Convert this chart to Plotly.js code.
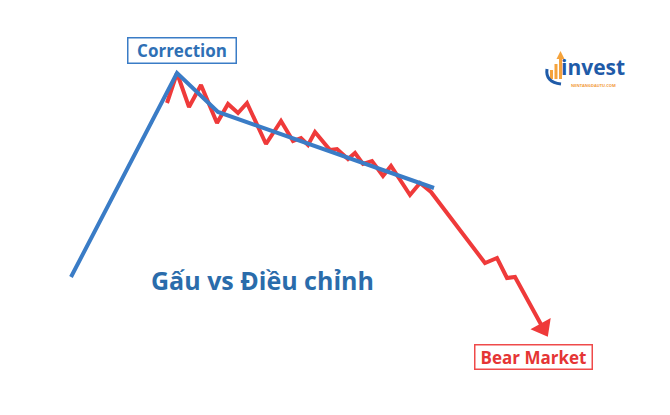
<!DOCTYPE html>
<html><head><meta charset="utf-8">
<script src="https://cdn.plot.ly/plotly-3.0.1.min.js"></script>
<style>html,body{margin:0;padding:0;background:#fff}#chart{width:670px;height:415px}</style>
</head><body><div id="chart"></div>
<script>
// Trend (correction) line: time index vs price level
const trendTime  = [71, 177, 218, 434];
const trendPrice = [138, 342, 303, 227];
// Actual price path (correction then bear market)
const priceTime  = [167,177,189,201,217,228,238,247,266,281,293,301,308,315,330,337,348,355,363,372,383,391,410,420,431,485,497,507,515,543];
const priceLevel = [312,342,308,330,292,311,302,312,271,294,274,277,270,283,265,266,256,262,251,254,239,249,220,232,223,152,157,137,138,87];
const labels = {correction: "Correction", bear: "Bear Market", title: "Gấu vs Điều chỉnh", brand: "invest", site: "NENTANGDAUTU.COM"};

const RED = "#ef3a3a", BLUE = "#3a7cc6";
const n = priceTime.length;
const traces = [
  {x: priceTime, y: priceLevel, mode: "lines+markers", type: "scatter",
   line: {color: RED, width: 4, shape: "linear"},
   marker: {color: RED, opacity: 1, size: priceTime.map((_, i) => i === n - 1 ? 20 : 0),
            symbol: "triangle-up", angleref: "previous", line: {width: 0, color: RED}},
   hoverinfo: "skip"},
  {x: trendTime, y: trendPrice, mode: "lines", type: "scatter",
   line: {color: BLUE, width: 4}, hoverinfo: "skip"}
];
const font = "'Open Sans', Roboto, sans-serif";
const layout = {
  width: 670, height: 415, margin: {l: 0, r: 0, t: 0, b: 0},
  paper_bgcolor: "#fff", plot_bgcolor: "#fff", showlegend: false,
  xaxis: {range: [0, 670], visible: false, fixedrange: true},
  yaxis: {range: [0, 415], visible: false, fixedrange: true},
  annotations: [
    {x: 181.5, y: 365, xref: "x", yref: "y", text: "<b>" + labels.correction + "</b>", showarrow: false,
     font: {family: font, size: 17, color: "#2f70b5"}, bordercolor: "#3a7cc6", borderwidth: 1.5,
     borderpad: 2, bgcolor: "#fff", width: 103, height: 20},
    {x: 533, y: 58, xref: "x", yref: "y", text: "<b>" + labels.bear + "</b>", showarrow: false,
     font: {family: font, size: 17, color: "#e53535"}, bordercolor: "#ef4a4a", borderwidth: 1.5,
     borderpad: 2, bgcolor: "#fff", width: 112, height: 19},
    {x: 262, y: 135, xref: "x", yref: "y", text: "<b>" + labels.title + "</b>", showarrow: false,
     font: {family: font, size: 25, color: "#2a6cab"}},
    {x: 593, y: 348, xref: "x", yref: "y", text: "<b>" + labels.brand + "</b>", showarrow: false,
     font: {family: font, size: 21, color: "#1f5ba8"}},
    {x: 593, y: 330, xref: "x", yref: "y", text: "<b>" + labels.site + "</b>", showarrow: false,
     font: {family: font, size: 4, color: "#f29a3a"}}
  ],
  shapes: [
    {type: "rect", xref: "x", yref: "y", x0: 550, x1: 553, y0: 336, y1: 345, fillcolor: "#f5a33c", line: {width: 0}},
    {type: "rect", xref: "x", yref: "y", x0: 554.5, x1: 557.5, y0: 336, y1: 351, fillcolor: "#f5a33c", line: {width: 0}},
    {type: "path", xref: "x", yref: "y", path: "M 559 336 L 559 356 L 556.5 356 L 560.5 364 L 564.5 356 L 562 356 L 562 336 Z", fillcolor: "#f5a33c", line: {width: 0}},
    {type: "path", xref: "x", yref: "y", path: "M 547 346 Q 545 333 561 331", line: {color: "#1f5ba8", width: 3}}
  ]
};
Plotly.newPlot("chart", traces, layout, {staticPlot: true, displayModeBar: false});
</script></body></html>
